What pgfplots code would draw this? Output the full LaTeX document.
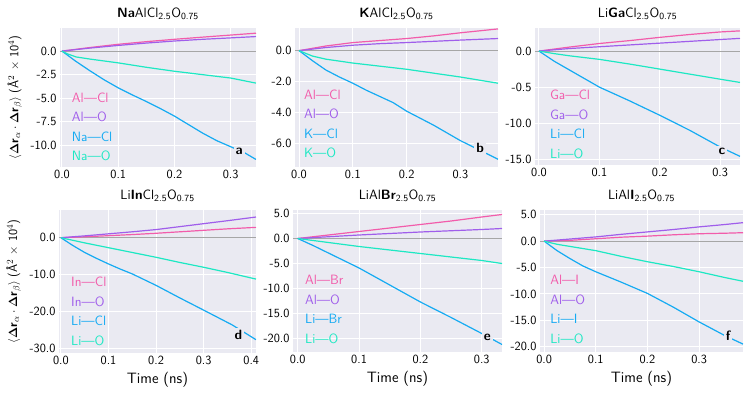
\documentclass[border=0pt]{standalone}
\usepackage[no-math]{fontspec}
\renewcommand{\familydefault}{\sfdefault}
\usepackage{pgfplots}
\pgfplotsset{compat=1.18}
\definecolor{bgc}{HTML}{EAEAF2}
\definecolor{pinkc}{HTML}{F25CAB}
\definecolor{purc}{HTML}{A05EEB}
\definecolor{bluec}{HTML}{15ABF2}
\definecolor{turc}{HTML}{1DE8C3}
\newcommand{\legfont}{\fontsize{13.5}{19.5}\selectfont}
\newcommand{\leg}[6]{\node[anchor=west, inner sep=0pt, align=left, font=\legfont] at (rel axis cs:#1,#2) {\textcolor{pinkc}{#3}\\\textcolor{purc}{#4}\\\textcolor{bluec}{#5}\\\textcolor{turc}{#6}};}
\newcommand{\plab}[3]{\node[fill=bgc, inner sep=2pt, font=\bfseries\fontsize{13.5}{13.5}\selectfont] at (axis cs:#1,#2) {#3};}
\pgfplotsset{
  panel/.style={
    scale only axis,
    axis background/.style={fill=bgc},
    axis line style={draw=none},
    grid=major,
    major grid style={white, line width=1pt},
    major tick length=0pt,
    tick style={draw=none},
    tick label style={font=\fontsize{12.5}{14}\selectfont},
    /pgf/number format/assume math mode=true,
    xticklabel style={/pgf/number format/.cd, fixed, fixed zerofill, precision=1},
    yticklabel style={/pgf/number format/.cd, fixed, fixed zerofill, precision=1},
    scaled ticks=false,
    xtick={0,0.1,0.2,0.3,0.4},
    title style={font=\fontsize{13.5}{15}\selectfont, yshift=-1pt},
    xlabel style={font=\fontsize{15}{17}\selectfont, at={(axis description cs:0.5,0)}, anchor=center, yshift=-27pt},
    ylabel style={font=\fontsize{12.5}{14}\selectfont, at={(axis description cs:-0.23,0.5)}, anchor=center},
    every axis plot/.append style={line width=1.2pt, no markers},
    clip=true,
  },
  pk/.style={pinkc, line width=1.2pt},
  pu/.style={purc, line width=1.2pt},
  bl/.style={bluec, line width=1.2pt},
  tu/.style={turc, line width=1.2pt},
  zl/.style={black!35, line width=0.9pt},
}
\newcommand{\ylab}{$\langle \mathbf{\Delta}\textbf{r}_\alpha \cdot \mathbf{\Delta}\textbf{r}_\beta \rangle$ (Å$^2$ $\times$ 10$^4$)}
\begin{document}
\begin{tikzpicture}
\useasboundingbox (0,0) rectangle (753pt,396pt);
% ---- a
\begin{axis}[panel, at={(60pt,229pt)}, anchor=south west, width=196pt, height=139pt,
  xmin=-0.0035, xmax=0.345, ymin=-12.3, ymax=2.45,
  ytick={0,-2.5,-5,-7.5,-10},
  title={\textbf{Na}AlCl\textsubscript{2.5}O\textsubscript{0.75}},
  ylabel={\ylab}]
\addplot[zl] coordinates {(-0.0035,0) (0.345,0)};
\addplot[pk] coordinates {(0,0) (0.05,0.38) (0.1,0.72) (0.15,1.0) (0.2,1.25) (0.25,1.48) (0.3,1.7) (0.345,1.9)};
\addplot[pu] coordinates {(0,0) (0.05,0.32) (0.1,0.6) (0.15,0.85) (0.2,1.07) (0.25,1.25) (0.3,1.4) (0.345,1.54)};
\addplot[bl] coordinates {(0,0) (0.025,-1.1) (0.05,-2.1) (0.075,-3.05) (0.1,-3.9) (0.125,-4.65) (0.15,-5.35) (0.175,-6.1) (0.2,-6.9) (0.225,-7.8) (0.25,-8.7) (0.275,-9.5) (0.3,-10.15) (0.325,-10.8) (0.345,-11.5)};
\addplot[tu] coordinates {(0,0) (0.01,-0.3) (0.025,-0.62) (0.05,-0.85) (0.1,-1.25) (0.15,-1.72) (0.2,-2.14) (0.25,-2.5) (0.3,-2.86) (0.345,-3.4)};
\leg{0.06}{0.29}{Al—Cl}{Al—O}{Na—Cl}{Na—O}
\plab{0.315}{-10.6}{a}
\end{axis}
% ---- b
\begin{axis}[panel, at={(295pt,229pt)}, anchor=south west, width=203pt, height=139pt,
  xmin=-0.0075, xmax=0.37, ymin=-7.5, ymax=1.46,
  ytick={0,-2,-4,-6},
  title={\textbf{K}AlCl\textsubscript{2.5}O\textsubscript{0.75}}]
\addplot[zl] coordinates {(-0.0075,0) (0.37,0)};
\addplot[pk] coordinates {(0,0) (0.05,0.3) (0.1,0.52) (0.15,0.65) (0.2,0.78) (0.25,0.95) (0.3,1.15) (0.37,1.4)};
\addplot[pu] coordinates {(0,0) (0.05,0.2) (0.1,0.35) (0.15,0.45) (0.2,0.52) (0.25,0.6) (0.3,0.68) (0.37,0.78)};
\addplot[bl] coordinates {(0,0) (0.025,-0.65) (0.05,-1.25) (0.075,-1.7) (0.1,-2.1) (0.125,-2.55) (0.15,-2.95) (0.175,-3.35) (0.2,-3.9) (0.25,-4.8) (0.3,-5.8) (0.335,-6.4) (0.37,-7.0)};
\addplot[tu] coordinates {(0,0) (0.025,-0.35) (0.05,-0.55) (0.1,-0.8) (0.15,-1.0) (0.2,-1.2) (0.25,-1.45) (0.3,-1.7) (0.37,-2.1)};
\leg{0.044}{0.31}{Al—Cl}{Al—O}{K—Cl}{K—O}
\plab{0.337}{-6.3}{b}
\end{axis}
% ---- c
\begin{axis}[panel, at={(535pt,231pt)}, anchor=south west, width=205pt, height=137pt,
  xmin=-0.0066, xmax=0.333, ymin=-15.8, ymax=3.2,
  ytick={0,-5,-10,-15}, yticklabels={0.0,-0.5,-10.0,-15.0},
  title={Li\textbf{Ga}Cl\textsubscript{2.5}O\textsubscript{0.75}}]
\addplot[zl] coordinates {(-0.0066,0) (0.333,0)};
\addplot[pk] coordinates {(0,0) (0.05,0.55) (0.1,1.05) (0.15,1.45) (0.2,1.9) (0.25,2.3) (0.3,2.65) (0.333,2.8)};
\addplot[pu] coordinates {(0,0) (0.05,0.35) (0.1,0.6) (0.15,0.85) (0.2,1.1) (0.25,1.35) (0.3,1.6) (0.333,1.76)};
\addplot[bl] coordinates {(0,0) (0.025,-1.4) (0.05,-2.6) (0.075,-3.8) (0.1,-5.0) (0.15,-6.9) (0.2,-8.9) (0.25,-11.0) (0.3,-13.3) (0.333,-14.6)};
\addplot[tu] coordinates {(0,0) (0.025,-0.35) (0.05,-0.65) (0.1,-1.15) (0.15,-1.8) (0.2,-2.5) (0.25,-3.2) (0.3,-3.9) (0.333,-4.35)};
\leg{0.073}{0.295}{Ga—Cl}{Ga—O}{Li—Cl}{Li—O}
\plab{0.303}{-13.85}{c}
\end{axis}
% ---- d
\begin{axis}[panel, at={(59pt,43pt)}, anchor=south west, width=197pt, height=143pt,
  xmin=-0.004, xmax=0.41, ymin=-31.2, ymax=7.5,
  ytick={0,-10,-20,-30},
  title={Li\textbf{In}Cl\textsubscript{2.5}O\textsubscript{0.75}},
  xlabel={Time (ns)}, ylabel={\ylab}]
\addplot[zl] coordinates {(-0.004,0) (0.41,0)};
\addplot[pk] coordinates {(0,0) (0.05,0.25) (0.1,0.55) (0.15,0.85) (0.2,1.2) (0.25,1.6) (0.3,2.0) (0.35,2.4) (0.41,2.8)};
\addplot[pu] coordinates {(0,0) (0.05,0.5) (0.1,1.05) (0.15,1.6) (0.2,2.2) (0.25,3.0) (0.3,3.8) (0.35,4.6) (0.41,5.6)};
\addplot[bl] coordinates {(0,0) (0.025,-2.1) (0.05,-4.0) (0.075,-5.6) (0.1,-7.1) (0.125,-8.5) (0.15,-9.8) (0.2,-12.9) (0.25,-16.3) (0.3,-19.6) (0.36,-23.6) (0.41,-27.6)};
\addplot[tu] coordinates {(0,0) (0.025,-0.7) (0.05,-1.4) (0.1,-2.7) (0.15,-4.0) (0.2,-5.3) (0.25,-6.7) (0.3,-8.0) (0.35,-9.4) (0.41,-11.2)};
\leg{0.061}{0.29}{In—Cl}{In—O}{Li—Cl}{Li—O}
\plab{0.373}{-26.3}{d}
\end{axis}
% ---- e
\begin{axis}[panel, at={(293pt,44pt)}, anchor=south west, width=209pt, height=142pt,
  xmin=-0.0077, xmax=0.333, ymin=-22.7, ymax=5.7,
  ytick={5,0,-5,-10,-15,-20},
  title={LiAl\textbf{Br}\textsubscript{2.5}O\textsubscript{0.75}},
  xlabel={Time (ns)}]
\addplot[zl] coordinates {(-0.0077,0) (0.333,0)};
\addplot[pk] coordinates {(0,0) (0.05,0.7) (0.1,1.4) (0.15,2.1) (0.2,2.8) (0.25,3.5) (0.3,4.3) (0.333,4.8)};
\addplot[pu] coordinates {(0,0) (0.05,0.35) (0.1,0.7) (0.15,1.0) (0.2,1.3) (0.25,1.55) (0.3,1.8) (0.333,2.0)};
\addplot[bl] coordinates {(0,0) (0.025,-1.4) (0.05,-2.9) (0.075,-4.4) (0.1,-5.9) (0.15,-9.3) (0.2,-12.7) (0.25,-15.8) (0.3,-19.0) (0.333,-21.2)};
\addplot[tu] coordinates {(0,0) (0.05,-0.8) (0.1,-1.6) (0.15,-2.3) (0.2,-3.0) (0.25,-3.7) (0.3,-4.4) (0.333,-5.0)};
\leg{0.057}{0.30}{Al—Br}{Al—O}{Li—Br}{Li—O}
\plab{0.309}{-19.7}{e}
\end{axis}
% ---- f
\begin{axis}[panel, at={(540pt,44pt)}, anchor=south west, width=203pt, height=142pt,
  xmin=-0.008, xmax=0.385, ymin=-21, ymax=5.9,
  ytick={5,0,-5,-10,-15,-20},
  title={LiAl\textbf{I}\textsubscript{2.5}O\textsubscript{0.75}},
  xlabel={Time (ns)}]
\addplot[zl] coordinates {(-0.008,0) (0.385,0)};
\addplot[pk] coordinates {(0,0) (0.05,0.15) (0.1,0.45) (0.15,0.75) (0.2,0.95) (0.25,1.2) (0.3,1.4) (0.35,1.5) (0.385,1.6)};
\addplot[pu] coordinates {(0,0) (0.05,0.4) (0.1,0.8) (0.15,1.3) (0.2,1.75) (0.25,2.2) (0.3,2.7) (0.35,3.15) (0.385,3.5)};
\addplot[bl] coordinates {(0,0) (0.025,-1.8) (0.05,-3.3) (0.075,-4.7) (0.1,-5.8) (0.15,-7.8) (0.2,-9.9) (0.25,-12.5) (0.3,-15.3) (0.35,-17.9) (0.385,-19.5)};
\addplot[tu] coordinates {(0,0) (0.025,-0.6) (0.05,-1.0) (0.1,-1.8) (0.15,-2.9) (0.2,-3.9) (0.25,-4.8) (0.3,-5.8) (0.35,-6.9) (0.385,-7.6)};
\leg{0.05}{0.30}{Al—I}{Al—O}{Li—I}{Li—O}
\plab{0.356}{-17.9}{f}
\end{axis}
\end{tikzpicture}
\end{document}
